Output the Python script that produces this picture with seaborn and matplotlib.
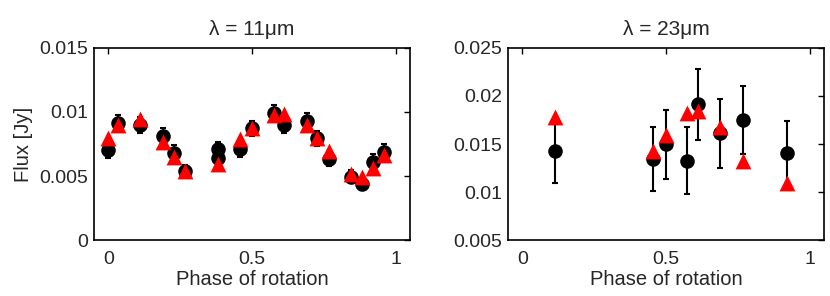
import numpy as np
import pandas as pd
import matplotlib
matplotlib.use("Agg")
import matplotlib.pyplot as plt
import seaborn as sns

# 11 micron data: phase, observed flux (black), model flux (red)
phase_11 = [0.0, 0.035, 0.111, 0.19, 0.228, 0.266, 0.382, 0.382, 0.458, 0.499,
            0.575, 0.613, 0.691, 0.726, 0.767, 0.846, 0.884, 0.922, 0.959]
flux_11 = [0.00703, 0.00917, 0.00898, 0.00815, 0.00682, 0.00539, 0.00708, 0.00638, 0.00708, 0.00872,
           0.00995, 0.00898, 0.00932, 0.00794, 0.00630, 0.00495, 0.00438, 0.00612, 0.00690]
err_11 = [0.0006, 0.0006, 0.0006, 0.0006, 0.0006, 0.0005, 0.0006, 0.0006, 0.0006, 0.0006,
          0.0006, 0.0006, 0.0006, 0.0006, 0.0005, 0.0005, 0.0005, 0.0006, 0.0006]
model_phase_11 = [0.0, 0.035, 0.111, 0.19, 0.228, 0.266, 0.382, 0.458, 0.499,
                  0.575, 0.613, 0.691, 0.726, 0.767, 0.846, 0.884, 0.922, 0.959]
model_11 = [0.0080, 0.00898, 0.00945, 0.00768, 0.00646, 0.00542, 0.00591, 0.00786, 0.00877,
            0.00977, 0.00982, 0.00898, 0.00794, 0.00695, 0.00516, 0.00495, 0.00560, 0.00664]

# 23 micron data
phase_23 = [0.112, 0.456, 0.498, 0.573, 0.612, 0.689, 0.766, 0.919]
flux_23 = [0.01427, 0.01344, 0.01497, 0.01326, 0.01913, 0.01611, 0.01750, 0.01403]
err_23 = [0.0033, 0.0033, 0.0036, 0.0035, 0.0037, 0.0036, 0.0035, 0.0034]
model_23 = [0.01784, 0.01427, 0.01594, 0.01820, 0.01847, 0.01680, 0.01326, 0.01097]

df11 = pd.DataFrame({"phase": phase_11, "flux": flux_11, "err": err_11})
dm11 = pd.DataFrame({"phase": model_phase_11, "flux": model_11})
df23 = pd.DataFrame({"phase": phase_23, "flux": flux_23, "err": err_23})
dm23 = pd.DataFrame({"phase": phase_23, "flux": model_23})

sns.set_style("white")
plt.rcParams['font.family'] = ['Liberation Sans', 'DejaVu Sans']
plt.rcParams['font.size'] = 14

fig = plt.figure(figsize=(8.3, 2.96), dpi=100)
ax1 = fig.add_axes([0.1133, 0.189, 0.3807, 0.649])
ax2 = fig.add_axes([0.612, 0.189, 0.381, 0.649])

panels = [
    (ax1, df11, dm11, "λ = 11μm", (0, 0.015), [0, 0.005, 0.01, 0.015], ["0", "0.005", "0.01", "0.015"]),
    (ax2, df23, dm23, "λ = 23μm", (0.005, 0.025), [0.005, 0.01, 0.015, 0.02, 0.025],
     ["0.005", "0.01", "0.015", "0.02", "0.025"]),
]

for ax, obs, mod, title, ylim, yt, ytl in panels:
    ax.errorbar(obs["phase"], obs["flux"], yerr=obs["err"], fmt="none",
                ecolor="black", elinewidth=1.5, capsize=2.5, capthick=1.5, zorder=2)
    sns.scatterplot(data=obs, x="phase", y="flux", ax=ax, color="black",
                    marker="o", s=110, edgecolor="black", linewidth=0, zorder=3)
    sns.scatterplot(data=mod, x="phase", y="flux", ax=ax, color="red",
                    marker="^", s=130, edgecolor="red", linewidth=0, zorder=4)
    ax.set_xlim(-0.05, 1.05)
    ax.set_ylim(*ylim)
    ax.set_xticks([0, 0.5, 1])
    ax.set_xticklabels(["0", "0.5", "1"])
    ax.set_yticks(yt)
    ax.set_yticklabels(ytl)
    ax.set_title(title, fontsize=15, pad=9)
    ax.set_xlabel("Phase of rotation", fontsize=14.5, labelpad=1)
    ax.set_ylabel("")
    ax.tick_params(direction="in", top=True, right=True, length=4, width=1,
                   labelsize=14, color="black")
    ax.tick_params(axis="x", pad=8)
    ax.tick_params(axis="y", pad=4)
    for sp in ax.spines.values():
        sp.set_linewidth(1.2)
        sp.set_color("black")

ax1.set_ylabel("Flux [Jy]", fontsize=14.5, labelpad=5)

fig.savefig("out.png", dpi=100)
